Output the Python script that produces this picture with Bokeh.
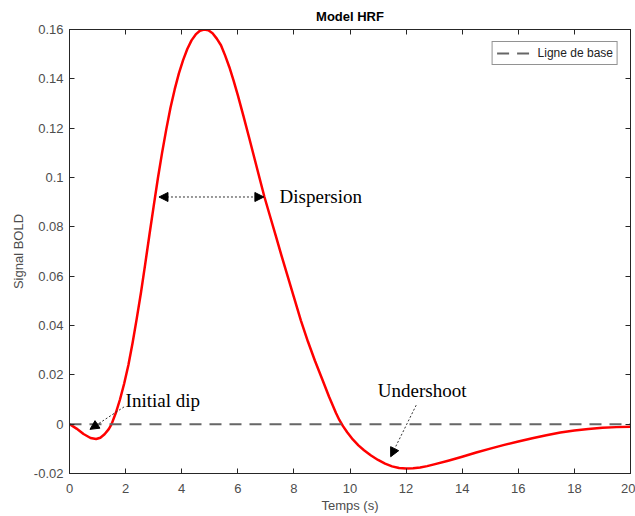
from bokeh.plotting import figure
from bokeh.models import (Range1d, LinearAxis, FixedTicker, Arrow, NormalHead,
                          Legend, LegendItem)
from bokeh.core.properties import value
from bokeh.embed import file_html
from bokeh.resources import INLINE

# ---- data ----
time_s = [0.0, 0.25, 0.5, 0.75, 0.95, 1.1, 1.25, 1.4, 1.5, 1.65, 1.8, 1.95,
          2.1, 2.25, 2.4, 2.55, 2.7, 2.85, 3.0, 3.15, 3.3, 3.45, 3.6, 3.75,
          3.9, 4.05, 4.2, 4.35, 4.5, 4.65, 4.8, 4.95, 5.1, 5.25, 5.4, 5.55,
          5.7, 5.85, 6.0, 6.2, 6.4, 6.6, 6.8, 6.95, 7.15, 7.35, 7.55, 7.75,
          8.0, 8.25, 8.5, 8.75, 9.0, 9.25, 9.5, 9.62, 9.75, 9.9, 10.1, 10.3,
          10.5, 10.75, 11.0, 11.25, 11.5, 11.75, 12.0, 12.25, 12.5, 12.75,
          13.0, 13.5, 14.0, 14.5, 15.0, 15.5, 16.0, 16.5, 17.0, 17.5, 18.0,
          18.5, 19.0, 19.5, 20.0]
bold_signal = [0.0, -0.0018, -0.0040, -0.0056, -0.0060, -0.0055, -0.0041,
               -0.0020, 0.0, 0.0045, 0.0100, 0.0165, 0.0240, 0.0330, 0.0430,
               0.0535, 0.0650, 0.0768, 0.0883, 0.0996, 0.1100, 0.1195, 0.1283,
               0.1357, 0.1422, 0.1476, 0.1521, 0.1556, 0.1580, 0.1595, 0.1600,
               0.1597, 0.1585, 0.1563, 0.1536, 0.1494, 0.1447, 0.1393, 0.1334,
               0.1250, 0.1163, 0.1075, 0.0987, 0.0921, 0.0843, 0.0765, 0.0686,
               0.0610, 0.0515, 0.0420, 0.0335, 0.0257, 0.0185, 0.0112, 0.0045,
               0.0017, -0.0008, -0.0033, -0.0062, -0.0086, -0.0106, -0.0127,
               -0.0145, -0.0160, -0.0171, -0.0178, -0.0180, -0.0179, -0.0176,
               -0.0170, -0.0163, -0.0148, -0.0132, -0.0115, -0.0099, -0.0084,
               -0.0070, -0.0057, -0.0045, -0.0034, -0.0026, -0.0020, -0.0015,
               -0.0012, -0.0010]
baseline_t = [0, 20]
baseline_v = [0, 0]

x_ticks = [0, 2, 4, 6, 8, 10, 12, 14, 16, 18, 20]
y_ticks = [-0.02, 0, 0.02, 0.04, 0.06, 0.08, 0.1, 0.12, 0.14, 0.16]
y_tick_labels = ["-0.02", "0", "0.02", "0.04", "0.06", "0.08", "0.1", "0.12",
                 "0.14", "0.16"]

title_text = "Model HRF"
x_label = "Temps (s)"
y_label = "Signal BOLD"
legend_label = "Ligne de base"

# annotations: text, text anchor (x, y), arrow start, arrow end, double-headed
annot_text = ["Initial dip", "Dispersion", "Undershoot"]
annot_x = [2.0, 7.49, 10.99]
annot_y = [0.0097, 0.0922, 0.0138]
arrow_x0 = [1.945, 3.19, 12.36]
arrow_y0 = [0.0070, 0.0921, 0.0077]
arrow_x1 = [0.73, 6.93, 11.45]
arrow_y1 = [-0.0021, 0.0921, -0.0132]
arrow_double = [False, True, False]

AX = "#262626"
TXT = "#4d4d4d"
SANS = "Liberation Sans"

p = figure(width=635, height=516, output_backend="svg",
           toolbar_location=None,
           x_range=Range1d(0, 20), y_range=Range1d(-0.02, 0.16),
           min_border_left=69, min_border_right=5, min_border_top=29,
           min_border_bottom=43, background_fill_color="white",
           border_fill_color="white")
p.grid.visible = False
p.outline_line_color = AX

p.title.text = title_text
p.title.text_font = SANS
p.title.text_font_size = "13px"
p.title.text_font_style = "bold"
p.title.text_color = "black"
p.title.align = "center"
p.title.standoff = 12

for ax in (p.xaxis[0], p.yaxis[0]):
    ax.axis_line_color = AX
    ax.major_tick_line_color = AX
    ax.major_tick_in = 5
    ax.major_tick_out = 0
    ax.minor_tick_line_color = None
    ax.major_label_text_font = SANS
    ax.major_label_text_font_size = "13px"
    ax.major_label_text_color = TXT
    ax.axis_label_text_font = SANS
    ax.axis_label_text_font_size = "13px"
    ax.axis_label_text_font_style = "normal"
    ax.axis_label_text_color = TXT

p.xaxis[0].ticker = FixedTicker(ticks=x_ticks)
p.yaxis[0].ticker = FixedTicker(ticks=y_ticks)
p.yaxis[0].major_label_overrides = {t: l for t, l in zip(y_ticks, y_tick_labels)}
p.xaxis[0].axis_label = x_label
p.yaxis[0].axis_label = y_label
p.xaxis[0].major_label_standoff = 10
p.yaxis[0].major_label_standoff = 6
p.xaxis[0].axis_label_standoff = 2
p.yaxis[0].axis_label_standoff = 5

for loc, ticks in (("above", x_ticks), ("right", y_ticks)):
    a = LinearAxis(ticker=FixedTicker(ticks=ticks), major_tick_in=5,
                   major_tick_out=0, minor_tick_line_color=None,
                   axis_line_color=AX, major_tick_line_color=AX,
                   major_label_overrides={t: "" for t in ticks},
                   major_label_standoff=0)
    p.add_layout(a, loc)

curve = p.line(time_s, bold_signal, line_color="#ff0000", line_width=2.5,
               line_join="round")
base = p.line(baseline_t, baseline_v, line_color="#666666", line_width=2,
              line_dash="12 8")

legend = Legend(items=[LegendItem(label=legend_label, renderers=[base])],
                location="top_right", label_text_font=SANS,
                label_text_font_size="12px", label_text_color="#222222",
                border_line_color=AX, border_line_width=1, padding=4,
                margin=12, glyph_width=33, glyph_height=12, label_height=12,
                label_standoff=8, spacing=0, background_fill_alpha=1)
p.add_layout(legend)

for x0, y0, x1, y1, dbl in zip(arrow_x0, arrow_y0, arrow_x1, arrow_y1, arrow_double):
    head_end = NormalHead(size=9, fill_color="black", line_color="black")
    head_start = NormalHead(size=9, fill_color="black", line_color="black") if dbl else None
    arr = Arrow(x_start=x0, y_start=y0, x_end=x1, y_end=y1, end=head_end,
                start=head_start, line_color="#333333", line_width=1,
                line_dash="2 2")
    p.add_layout(arr)

p.text(x=annot_x, y=annot_y, text=annot_text,
       text_font=value("Liberation Serif"), text_font_size="19px",
       text_baseline="middle", text_align="left", text_color="black")

open("out.html", "w").write(file_html(p, INLINE))
